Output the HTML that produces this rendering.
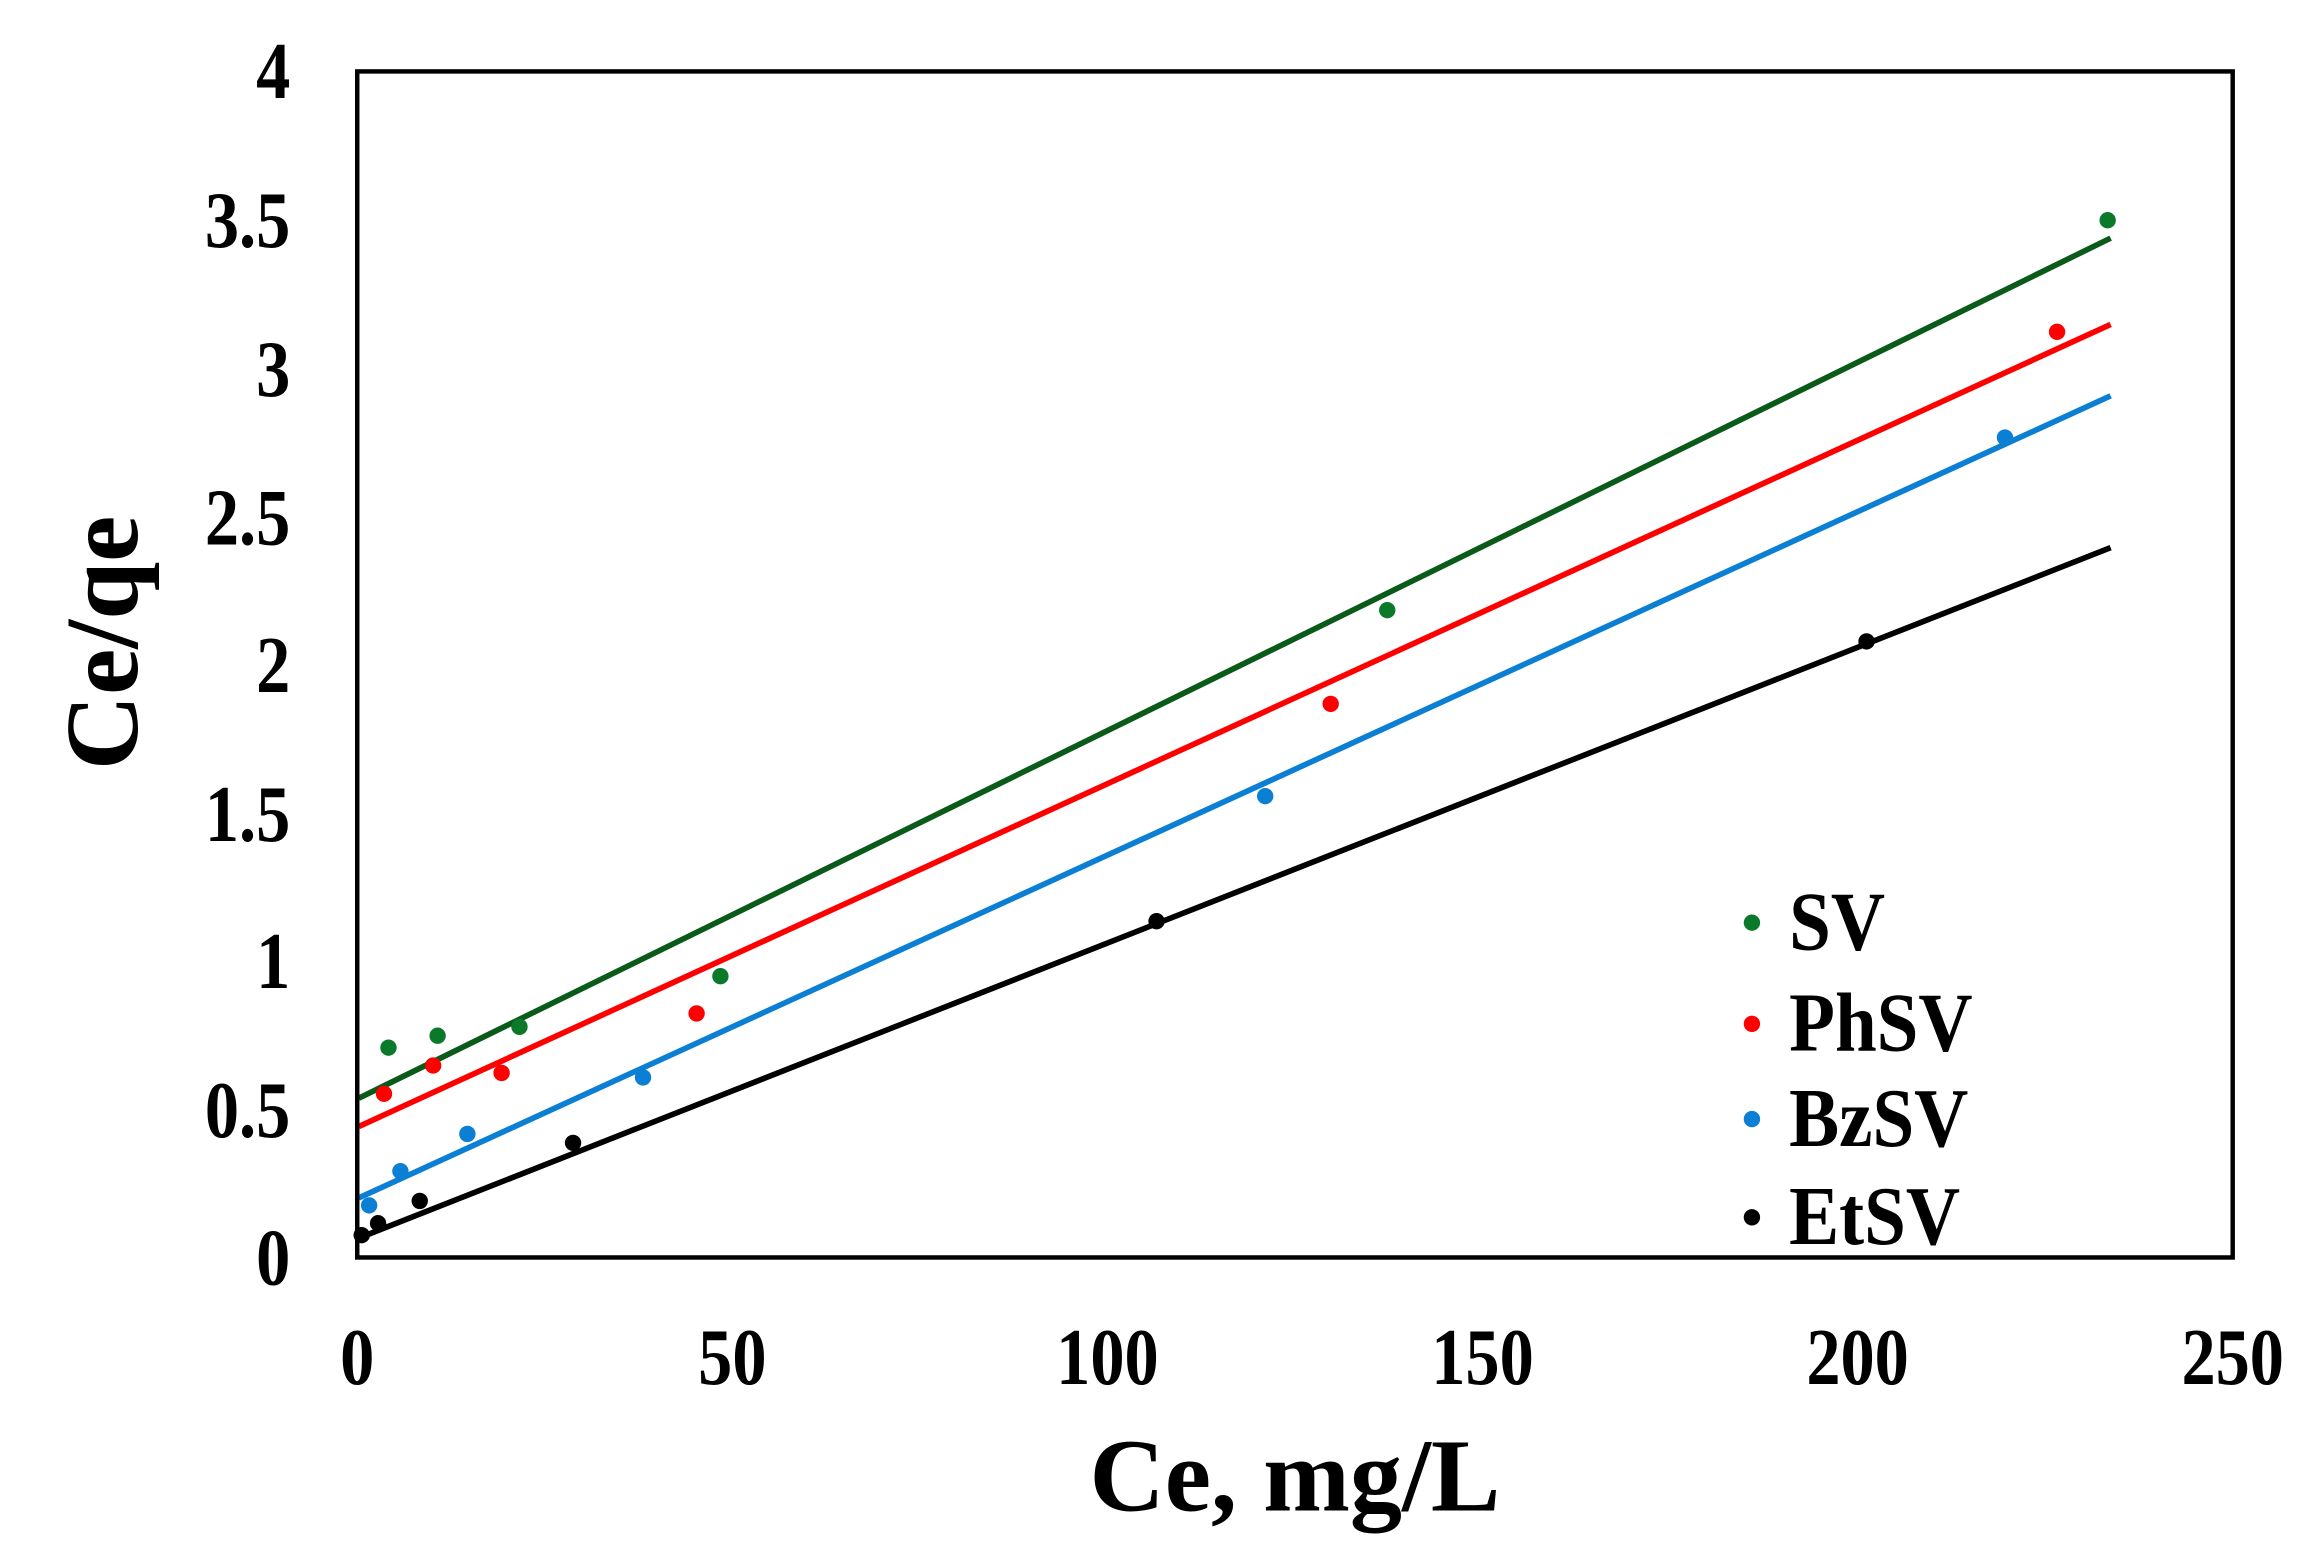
<!DOCTYPE html>
<html><head><meta charset="utf-8"><style>
html,body{margin:0;padding:0;background:#fff;}
svg{display:block;}
text{font-family:"Liberation Serif",serif;font-weight:bold;fill:#000;}
</style></head><body>
<svg width="2322" height="1567" viewBox="0 0 1560 1053" preserveAspectRatio="none" xmlns="http://www.w3.org/2000/svg">
<rect x="0" y="0" width="1560" height="1053" fill="#fff"/>
<g stroke-width="3.8" fill="none">
<line x1="241" y1="738" x2="1418" y2="160" stroke="#0a5a1a"/>
<line x1="241" y1="757" x2="1418" y2="218" stroke="#ff0000"/>
<line x1="241" y1="805" x2="1418" y2="266" stroke="#0a7fd4"/>
<line x1="241" y1="832" x2="1418" y2="368" stroke="#000"/>
</g>
<g fill="#0a7a2a">
<circle cx="261" cy="704" r="5.5"/><circle cx="294" cy="696" r="5.5"/><circle cx="349" cy="690" r="5.5"/><circle cx="484" cy="656" r="5.5"/><circle cx="932" cy="410" r="5.5"/><circle cx="1416" cy="148" r="5.5"/>
</g>
<g fill="#ff0000">
<circle cx="258" cy="735" r="5.5"/><circle cx="291" cy="716" r="5.5"/><circle cx="337" cy="721" r="5.5"/><circle cx="468" cy="681" r="5.5"/><circle cx="894" cy="473" r="5.5"/><circle cx="1382" cy="223" r="5.5"/>
</g>
<g fill="#0a7fd4">
<circle cx="248" cy="810" r="5.5"/><circle cx="269" cy="787" r="5.5"/><circle cx="314" cy="762" r="5.5"/><circle cx="432" cy="724" r="5.5"/><circle cx="850" cy="535" r="5.5"/><circle cx="1347" cy="294" r="5.5"/>
</g>
<g fill="#000">
<circle cx="243" cy="830" r="5.5"/><circle cx="254" cy="822" r="5.5"/><circle cx="282" cy="807" r="5.5"/><circle cx="385" cy="768" r="5.5"/><circle cx="777" cy="619" r="5.5"/><circle cx="1254" cy="431" r="5.5"/>
</g>
<rect x="240" y="48" width="1260" height="797" fill="none" stroke="#000" stroke-width="3"/>
<g font-size="54" text-anchor="end">
<text transform="translate(195,66) scale(0.85,1)">4</text>
<text transform="translate(195,166) scale(0.85,1)">3.5</text>
<text transform="translate(195,266) scale(0.85,1)">3</text>
<text transform="translate(195,366) scale(0.85,1)">2.5</text>
<text transform="translate(195,465) scale(0.85,1)">2</text>
<text transform="translate(195,565) scale(0.85,1)">1.5</text>
<text transform="translate(195,664) scale(0.85,1)">1</text>
<text transform="translate(195,764) scale(0.85,1)">0.5</text>
<text transform="translate(195,863) scale(0.85,1)">0</text>
</g>
<g font-size="54" text-anchor="middle">
<text transform="translate(240,930) scale(0.85,1)">0</text>
<text transform="translate(492,930) scale(0.85,1)">50</text>
<text transform="translate(744,930) scale(0.85,1)">100</text>
<text transform="translate(996,930) scale(0.85,1)">150</text>
<text transform="translate(1248,930) scale(0.85,1)">200</text>
<text transform="translate(1500,930) scale(0.85,1)">250</text>
</g>
<text x="870" y="1015" font-size="70" text-anchor="middle">Ce, mg/L</text>
<text transform="translate(92,432) rotate(-90)" font-size="70" text-anchor="middle">Ce/qe</text>
<circle cx="1177" cy="620" r="5.5" fill="#0a7a2a"/>
<circle cx="1177" cy="688" r="5.5" fill="#ff0000"/>
<circle cx="1177" cy="752" r="5.5" fill="#0a7fd4"/>
<circle cx="1177" cy="818" r="5.5" fill="#000"/>
<g font-size="56">
<text transform="translate(1202,638) scale(0.9,1)">SV</text>
<text transform="translate(1202,706) scale(0.9,1)">PhSV</text>
<text transform="translate(1202,770) scale(0.9,1)">BzSV</text>
<text transform="translate(1202,836) scale(0.9,1)">EtSV</text>
</g>
</svg>
</body></html>
